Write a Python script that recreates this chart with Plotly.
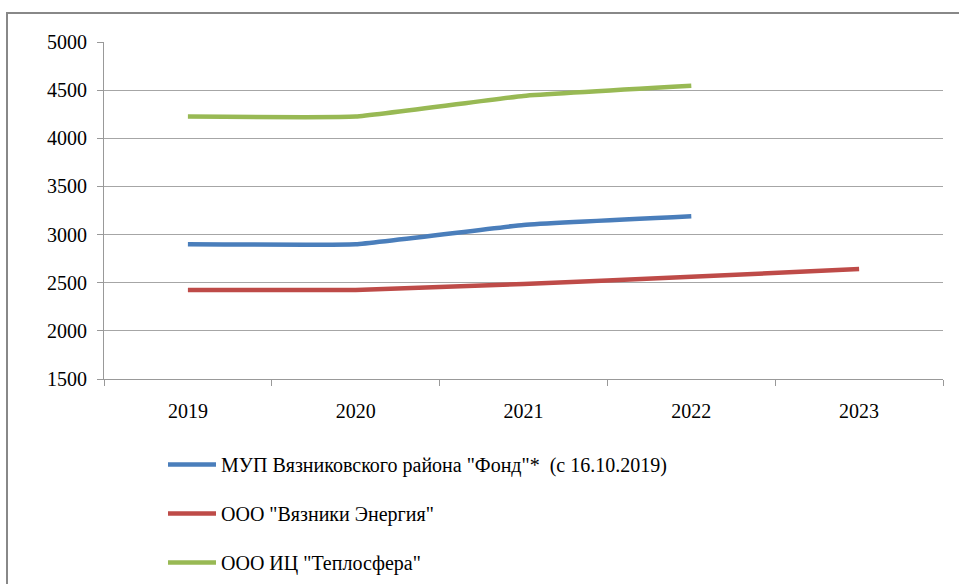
import plotly.graph_objects as go

years = ["2019", "2020", "2021", "2022", "2023"]
names = ['МУП Вязниковского района "Фонд"*  (с 16.10.2019)',
         'ООО "Вязники Энергия"',
         'ООО ИЦ "Теплосфера"']
fond = [2900, 2900, 3100, 3190, None]
energia = [2425, 2425, 2487, 2562, 2642]
teplosfera = [4225, 4225, 4440, 4545, None]
colors = ["#4A7EBB", "#BE4B48", "#98B954"]

W, H = 959, 584
L, R, T, B = 104, 16, 42, 205

fig = go.Figure()
for i, (n, v) in enumerate(zip(names, [fond, energia, teplosfera])):
    fig.add_trace(go.Scatter(x=years, y=v, name=n, mode="lines",
                             line=dict(color=colors[i], width=4.5, shape="spline", smoothing=0.3),
                             legendgroup=str(i)))

pw, ph = W - L - R, H - T - B
bottom_px = H - B
fig.add_shape(type="rect", xref="paper", yref="paper",
              x0=(7 - L) / pw, x1=(W + 20 - L) / pw,
              y0=(bottom_px - (H + 20)) / ph, y1=(bottom_px - 13) / ph,
              line=dict(color="#888888", width=2), layer="below")

serif = "Liberation Serif"
fig.update_layout(
    template="none",
    width=W, height=H,
    margin=dict(l=L, r=R, t=T, b=B, autoexpand=False),
    paper_bgcolor="white", plot_bgcolor="white",
    font=dict(family=serif, size=20, color="black"),
    showlegend=True,
    legend=dict(x=(163 - L) / pw, y=(bottom_px - 445) / ph, xanchor="left", yanchor="top",
                tracegroupgap=20, itemwidth=48, font=dict(family=serif, size=20),
                bgcolor="rgba(0,0,0,0)"),
    xaxis=dict(type="category", showgrid=False, showline=True, linecolor="#999999", linewidth=1,
               ticks="outside", tickson="boundaries", ticklen=6, tickcolor="#999999",
               ticklabelstandoff=14, range=[-0.5, 4.5], tickfont=dict(family=serif, size=20)),
    yaxis=dict(range=[1500, 5000], dtick=500, showgrid=True, gridcolor="#a6a6a6", gridwidth=1,
               showline=True, linecolor="#999999", linewidth=1, ticks="outside", ticklen=6,
               tickcolor="#999999", zeroline=False, ticklabelstandoff=6,
               tickfont=dict(family=serif, size=20)),
)
post = """
document.body.style.margin='0px';
document.querySelectorAll('.xtick text, .ytick text, .legendtext, text').forEach(function(e){
  e.style.setProperty('font-family', "'Liberation Serif', serif", 'important');
});
"""
fig.write_html("out.html", config={"displayModeBar": False}, post_script=post)
